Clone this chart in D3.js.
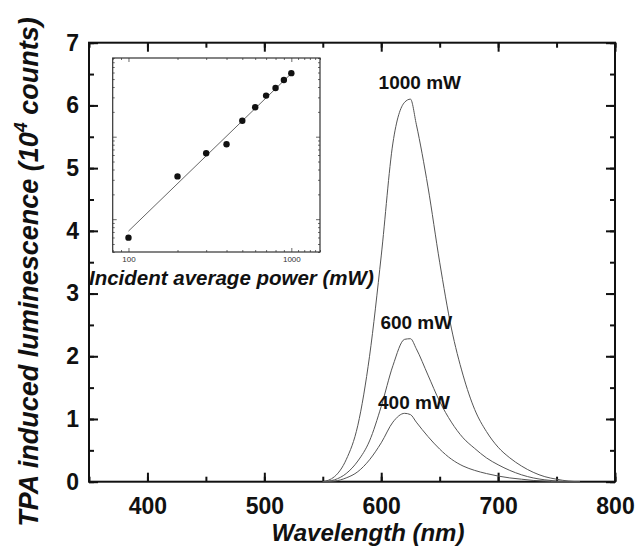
<!DOCTYPE html>
<html>
<head>
<meta charset="utf-8">
<script src="https://cdn.jsdelivr.net/npm/d3@7"></script>
<style>
  body { margin: 0; background: #fff; }
  text { font-family: "Liberation Sans", Arial, sans-serif; }
</style>
</head>
<body>
<div id="main"></div>
<script>
// spectra, wavelength in nm, luminescence in 10^4 counts
var wavelengths = [550, 560, 570, 580, 590, 600, 610, 620, 625, 630, 640, 650, 660, 670, 680, 690, 700, 710, 720, 730, 740, 750, 760, 770];
var lum1000 = [0, 0.08, 0.35, 0.9, 2.0, 3.6, 5.4, 6.05, 6.1, 5.7, 4.7, 3.5, 2.45, 1.7, 1.15, 0.8, 0.55, 0.38, 0.25, 0.15, 0.08, 0.04, 0.01, 0];
var lum600 = [0, 0.03, 0.13, 0.33, 0.65, 1.2, 1.85, 2.27, 2.28, 2.12, 1.7, 1.28, 0.95, 0.7, 0.53, 0.38, 0.27, 0.18, 0.11, 0.06, 0.03, 0.01, 0, 0];
var lum400 = [0, 0.01, 0.06, 0.16, 0.35, 0.62, 0.95, 1.09, 1.07, 0.95, 0.72, 0.52, 0.36, 0.25, 0.18, 0.13, 0.09, 0.06, 0.04, 0.02, 0.01, 0, 0, 0];
var seriesLabels = ["1000 mW", "600 mW", "400 mW"];
var labelWave = [633, 630, 628];
var labelLum = [6.26, 2.44, 1.16];

// inset: peak counts vs incident power
var powers = [100, 200, 300, 400, 500, 600, 700, 800, 900, 1000];
var peakCounts = [597, 3300, 6300, 8100, 15600, 22800, 31500, 39000, 48600, 59000];
var fitPowers = [100, 1000];
var fitCounts = [717, 58500];

var xTicks = [400, 500, 600, 700, 800];
var yTicks = [0, 1, 2, 3, 4, 5, 6, 7];

var ctx = {
    w: 640,
    h: 548,
    left: 89, right: 615, top: 42.7, bottom: 481.7,
    inL: 112.7, inR: 320, inT: 58, inB: 252
};

var svg = d3.select("#main").append("svg")
    .attr("width", ctx.w).attr("height", ctx.h);

var x = d3.scaleLinear().domain([350, 800]).range([ctx.left, ctx.right]);
var y = d3.scaleLinear().domain([0, 7]).range([ctx.bottom, ctx.top]);

// minor ticks every half step
var xMinor = d3.range(350, 801, 50);
var yMinor = d3.range(0, 7.01, 0.5);

function drawAxis(axis, tx, ty) {
    var g = svg.append("g").attr("transform", "translate(" + tx + "," + ty + ")").call(axis);
    g.select(".domain").remove();
    g.selectAll(".tick line").attr("stroke", "#111").attr("stroke-width", 2);
    return g;
}

// minor ticks (all four sides)
drawAxis(d3.axisBottom(x).tickValues(xMinor).tickSize(-5).tickFormat(""), 0, ctx.bottom);
drawAxis(d3.axisTop(x).tickValues(xMinor).tickSize(-5).tickFormat(""), 0, ctx.top);
drawAxis(d3.axisLeft(y).tickValues(yMinor).tickSize(-5).tickFormat(""), ctx.left, 0);
drawAxis(d3.axisRight(y).tickValues(yMinor).tickSize(-5).tickFormat(""), ctx.right, 0);

// major ticks
var gx = drawAxis(d3.axisBottom(x).tickValues(xTicks).tickSize(-9).tickPadding(16)
    .tickFormat(d3.format("d")), 0, ctx.bottom);
var gy = drawAxis(d3.axisLeft(y).tickValues(yTicks).tickSize(-9).tickPadding(10)
    .tickFormat(d3.format("d")), ctx.left, 0);
drawAxis(d3.axisTop(x).tickValues(xTicks).tickSize(-9).tickFormat(""), 0, ctx.top);
drawAxis(d3.axisRight(y).tickValues(yTicks).tickSize(-9).tickFormat(""), ctx.right, 0);

[gx, gy].forEach(function(g) {
    g.selectAll("text")
        .attr("font-size", 23).attr("font-weight", "bold")
        .attr("font-family", "Liberation Sans, Arial, sans-serif")
        .attr("fill", "#111");
});

// frame
svg.append("rect")
    .attr("x", ctx.left).attr("y", ctx.top)
    .attr("width", ctx.right - ctx.left).attr("height", ctx.bottom - ctx.top)
    .attr("fill", "none").attr("stroke", "#111").attr("stroke-width", 2);

// spectra
var line = d3.line()
    .x(function(d) { return x(d[0]); })
    .y(function(d) { return y(d[1]); })
    .curve(d3.curveMonotoneX);

[lum1000, lum600, lum400].forEach(function(vals) {
    svg.append("path")
        .datum(wavelengths.map(function(w, i) { return [w, vals[i]]; }))
        .attr("d", line)
        .attr("fill", "none").attr("stroke", "#555").attr("stroke-width", 1);
});

// labels above the peaks
seriesLabels.forEach(function(t, i) {
    svg.append("text")
        .attr("x", x(labelWave[i])).attr("y", y(labelLum[i]))
        .attr("text-anchor", "middle")
        .attr("font-size", 19).attr("font-weight", "bold").attr("fill", "#111")
        .text(t);
});

// axis titles
svg.append("text")
    .attr("x", 368).attr("y", 541)
    .attr("text-anchor", "middle")
    .attr("font-size", 24).attr("font-weight", "bold").attr("font-style", "italic")
    .attr("fill", "#111")
    .text("Wavelength (nm)");

var yt = svg.append("text")
    .attr("transform", "translate(38,272) rotate(-90)")
    .attr("text-anchor", "middle")
    .attr("font-size", 27).attr("font-weight", "bold").attr("font-style", "italic")
    .attr("fill", "#111");
yt.append("tspan").text("TPA induced luminescence  (10");
yt.append("tspan").attr("font-size", 18).attr("dy", -11).text("4");
yt.append("tspan").attr("dy", 11).text(" counts)");

// ---- inset ----
var ix = d3.scaleLog().domain([80, 1500]).range([ctx.inL, ctx.inR]);
var iy = d3.scaleLog().domain([400, 90000]).range([ctx.inB, ctx.inT]);

var ixMinor = [80, 90, 200, 300, 400, 500, 600, 700, 800, 900, 1100, 1200, 1300, 1400, 1500];
var iyMinor = [400, 500, 600, 700, 800, 900, 2000, 3000, 4000, 5000, 6000, 7000, 8000, 9000,
               20000, 30000, 40000, 50000, 60000, 70000, 80000, 90000];
var ixMajor = [100, 1000];
var iyMajor = [1000, 10000];

function drawInsetAxis(axis, tx, ty) {
    var g = svg.append("g").attr("transform", "translate(" + tx + "," + ty + ")").call(axis);
    g.select(".domain").remove();
    g.selectAll(".tick line").attr("stroke", "#444").attr("stroke-width", 0.8);
    return g;
}
drawInsetAxis(d3.axisBottom(ix).tickValues(ixMinor).tickSize(-2).tickFormat(""), 0, ctx.inB);
drawInsetAxis(d3.axisTop(ix).tickValues(ixMinor).tickSize(-2).tickFormat(""), 0, ctx.inT);
drawInsetAxis(d3.axisLeft(iy).tickValues(iyMinor).tickSize(-2).tickFormat(""), ctx.inL, 0);
drawInsetAxis(d3.axisRight(iy).tickValues(iyMinor).tickSize(-2).tickFormat(""), ctx.inR, 0);
var gix = drawInsetAxis(d3.axisBottom(ix).tickValues(ixMajor).tickSize(-4).tickPadding(4)
    .tickFormat(d3.format("d")), 0, ctx.inB);
drawInsetAxis(d3.axisTop(ix).tickValues(ixMajor).tickSize(-4).tickFormat(""), 0, ctx.inT);
drawInsetAxis(d3.axisLeft(iy).tickValues(iyMajor).tickSize(-4).tickFormat(""), ctx.inL, 0);
drawInsetAxis(d3.axisRight(iy).tickValues(iyMajor).tickSize(-4).tickFormat(""), ctx.inR, 0);
gix.selectAll("text").attr("font-size", 8).attr("fill", "#333")
    .attr("font-family", "Liberation Sans, Arial, sans-serif");

svg.append("rect")
    .attr("x", ctx.inL).attr("y", ctx.inT)
    .attr("width", ctx.inR - ctx.inL).attr("height", ctx.inB - ctx.inT)
    .attr("fill", "none").attr("stroke", "#333").attr("stroke-width", 1.2);

svg.append("path")
    .datum(fitPowers.map(function(p, i) { return [p, fitCounts[i]]; }))
    .attr("d", d3.line().x(function(d) { return ix(d[0]); }).y(function(d) { return iy(d[1]); }))
    .attr("fill", "none").attr("stroke", "#666").attr("stroke-width", 1);

svg.selectAll("circle.pt")
    .data(powers.map(function(p, i) { return [p, peakCounts[i]]; }))
    .enter().append("circle")
    .attr("class", "pt")
    .attr("cx", function(d) { return ix(d[0]); })
    .attr("cy", function(d) { return iy(d[1]); })
    .attr("r", 3.2).attr("fill", "#111");

svg.append("text")
    .attr("x", 89).attr("y", 285)
    .attr("font-size", 20.5).attr("font-weight", "bold").attr("font-style", "italic")
    .attr("fill", "#111")
    .text("Incident average power (mW)");
</script>
</body>
</html>
